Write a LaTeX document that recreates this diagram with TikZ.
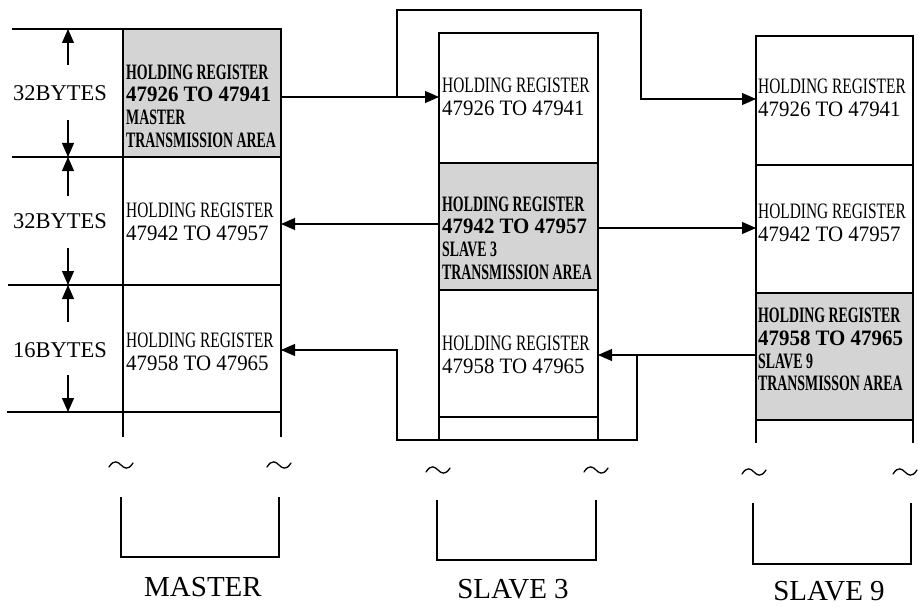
\documentclass[tikz,border=0pt]{standalone}
\usepackage{fontspec}
\setmainfont{Liberation Serif}
\newfontfamily\hrfont[FakeStretch=0.70]{Liberation Serif}
\newfontfamily\bdfont[FakeStretch=0.63]{Liberation Serif}
\newfontfamily\numfont[FakeStretch=0.95]{Liberation Serif}
\usetikzlibrary{arrows.meta,calc}
\begin{document}
\begin{tikzpicture}[x=1pt,y=-1pt,
  wire/.style={line width=1.1pt},
  arr/.style={wire,-{Triangle[length=14pt,width=12pt]}},
  cell/.style={draw,line width=1.1pt,inner sep=0pt,outer sep=0pt},
  shade/.style={cell,fill=black!17},
  txt/.style={anchor=west,align=left,inner sep=0pt,font=\fontsize{22}{22.7}\selectfont},
  dim/.style={inner sep=0pt,font=\fontsize{22.5}{24}\selectfont},
  lbl/.style={inner sep=0pt,font=\fontsize{29}{30}\selectfont},
  tilde/.pic={\draw[line width=1.3pt,line cap=round] (-12,2) .. controls (-7,-6) and (-3,-3) .. (0,0) .. controls (3,3) and (7,6) .. (12,-2);}]
\useasboundingbox (0,0) rectangle (918,607);

% ---------- MASTER column ----------
\node[shade,minimum width=158pt,minimum height=128pt] (m1) at (202,93) {};
\node[cell,minimum width=158pt,minimum height=128pt] (m2) at (202,221) {};
\node[cell,minimum width=158pt,minimum height=127pt] (m3) at (202,348.5) {};
\coordinate (m3l) at (123,437);
\coordinate (m3r) at (281,437);
\draw[wire] (m3.south west) -- (m3l);
\draw[wire] (m3.south east) -- (m3r);

\node[txt] (m1t) at (126,106) {{\bdfont\bfseries HOLDING REGISTER}\\{\numfont\bfseries 47926 TO 47941}\\{\bdfont\bfseries MASTER}\\{\bdfont\bfseries TRANSMISSION AREA}};
\node[txt] (m2t) at (126,222) {{\hrfont HOLDING REGISTER}\\{\numfont 47942 TO 47957}};
\node[txt] (m3t) at (126,352) {{\hrfont HOLDING REGISTER}\\{\numfont 47958 TO 47965}};

% ---------- SLAVE 3 column ----------
\node[cell,minimum width=159pt,minimum height=130pt] (s1) at (518.5,98) {};
\node[shade,minimum width=159pt,minimum height=127pt] (s2) at (518.5,226.5) {};
\node[cell,minimum width=159pt,minimum height=127pt] (s3) at (518.5,353.5) {};
\coordinate (s3l) at (439,440);
\coordinate (s3r) at (598,440);
\draw[wire] (s3.south west) -- (s3l);
\draw[wire] (s3.south east) -- (s3r);

\node[txt] (s1t) at (442,96.5) {{\hrfont HOLDING REGISTER}\\{\numfont 47926 TO 47941}};
\node[txt] (s2t) at (442,238) {{\bdfont\bfseries HOLDING REGISTER}\\{\numfont\bfseries 47942 TO 47957}\\{\bdfont\bfseries SLAVE 3}\\{\bdfont\bfseries TRANSMISSION AREA}};
\node[txt] (s3t) at (442,355) {{\hrfont HOLDING REGISTER}\\{\numfont 47958 TO 47965}};

% ---------- SLAVE 9 column ----------
\node[cell,minimum width=157pt,minimum height=129pt] (n1) at (834.5,100.5) {};
\node[cell,minimum width=157pt,minimum height=128pt] (n2) at (834.5,229) {};
\node[shade,minimum width=157pt,minimum height=127pt] (n3) at (834.5,356.5) {};
\coordinate (n3l) at (756,443);
\coordinate (n3r) at (913,443);
\draw[wire] (n3.south west) -- (n3l);
\draw[wire] (n3.south east) -- (n3r);

\node[txt] (n1t) at (758,98) {{\hrfont HOLDING REGISTER}\\{\numfont 47926 TO 47941}};
\node[txt] (n2t) at (758,222.5) {{\hrfont HOLDING REGISTER}\\{\numfont 47942 TO 47957}};
\node[txt] (n3t) at (758,349.5) {{\bdfont\bfseries HOLDING REGISTER}\\{\numfont\bfseries 47958 TO 47965}\\{\bdfont\bfseries SLAVE 9}\\{\bdfont\bfseries TRANSMISSON AREA}};

% ---------- dimension lines (left) ----------
\coordinate (h0) at (12,29);
\coordinate (h1) at (12,157);
\coordinate (h2) at (8,285);
\coordinate (h3) at (7,412);
\draw[wire] (h0) -- (m1.north west);
\draw[wire] (h1) -- (m1.south west);
\draw[wire] (h2) -- (m2.south west);
\draw[wire] (h3) -- (m3.south west);

\node[dim] (b1) at (60,93) {32BYTES};
\node[dim] (b2) at (60,221) {32BYTES};
\node[dim] (b3) at (60,350) {16BYTES};

\coordinate (d1a) at (68,65);  \coordinate (d1b) at (68,120);
\coordinate (d2a) at (68,196); \coordinate (d2b) at (68,248);
\coordinate (d3a) at (68,322); \coordinate (d3b) at (68,375);
\draw[arr] (d1a) -- (d1a |- h0);
\draw[arr] (d1b) -- (d1b |- h1);
\draw[arr] (d2a) -- (d2a |- h1);
\draw[arr] (d2b) -- (d2b |- h2);
\draw[arr] (d3a) -- (d3a |- h2);
\draw[arr] (d3b) -- (d3b |- h3);

% ---------- connectors ----------
% master row 1 -> slave 3 row 1 and slave 9 row 1
\coordinate (j1) at (397,97);
\coordinate (j2) at (397,10);
\coordinate (j3) at (641,10);
\coordinate (j4) at (641,99);
\draw[wire] (m1.east |- j1) -- (j1);
\draw[arr] (j1) -- (s1.west |- j1);
\draw[arr] (j1) -- (j2) -- (j3) -- (j4) -- (n1.west |- j4);

% slave 3 row 2 -> master row 2 and slave 9 row 2
\coordinate (k1) at (440,224);
\coordinate (k2) at (600,228);
\draw[arr] (s2.west |- k1) -- (m2.east |- k1);
\draw[arr] (s2.east |- k2) -- (n2.west |- k2);

% slave 9 row 3 -> slave 3 row 3 and master row 3
\coordinate (q1) at (637,355);
\coordinate (q2) at (637,440);
\coordinate (q3) at (397,440);
\coordinate (q4) at (397,350);
\draw[arr] (n3.west |- q1) -- (s3.east |- q1);
\draw[arr] (q1) -- (q2) -- (q3) -- (q4) -- (m3.east |- q4);

% ---------- break marks ----------
\pic at (121,465) {tilde};
\pic at (279,465) {tilde};
\pic at (438,470) {tilde};
\pic at (596,470) {tilde};
\pic at (754,472) {tilde};
\pic at (905,472) {tilde};

% ---------- lower boxes ----------
\draw[wire] (121,497) |- (279,557) -- (279,497);
\draw[wire] (437,500) |- (596,560) -- (596,500);
\draw[wire] (753,503) |- (911,564) -- (911,503);

% ---------- column labels ----------
\node[lbl] (ml) at (203,587) {MASTER};
\node[lbl] (sl) at (513,589) {SLAVE 3};
\node[lbl] (nl) at (829,591) {SLAVE 9};
\end{tikzpicture}
\end{document}
